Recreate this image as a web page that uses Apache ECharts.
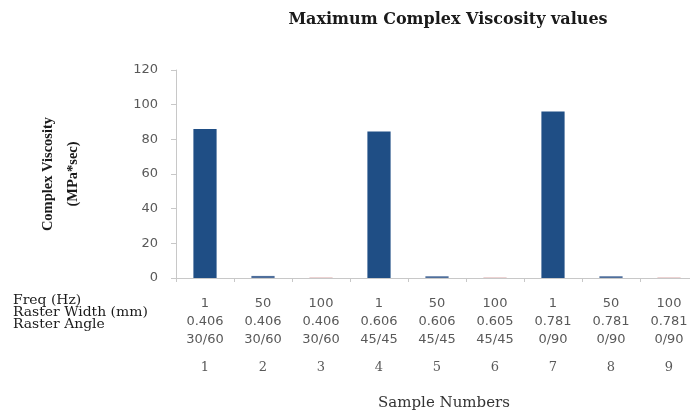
<!DOCTYPE html>
<html>
<head>
<meta charset="utf-8">
<script src="https://cdn.jsdelivr.net/npm/echarts@6/dist/echarts.min.js"></script>
<style>
  html, body { margin: 0; padding: 0; background: #fff; overflow: hidden; }
  #chart { width: 700px; height: 416px; }
</style>
</head>
<body>
<div id="chart"></div>
<script>
// data
const sampleNumbers = ['1', '2', '3', '4', '5', '6', '7', '8', '9']
const freqs = ['1', '50', '100', '1', '50', '100', '1', '50', '100']
const rasterWidths = ['0.406', '0.406', '0.406', '0.606', '0.606', '0.605', '0.781', '0.781', '0.781']
const rasterAngles = ['30/60', '30/60', '30/60', '45/45', '45/45', '45/45', '0/90', '0/90', '0/90']
const viscosity = [86, 1.2, 0.3, 84.5, 1.0, 0.3, 96, 1.0, 0.3]
const rowLabels = ['Freq (Hz)', 'Raster Width (mm)', 'Raster Angle']

// bar colour depends on the frequency
const freqColors = { '1': '#1f4e85', '50': '#4f6f9c', '100': '#dcaaaa' }

const serif = '"DejaVu Serif", "Liberation Serif", serif'
const sans = '"DejaVu Sans", "Liberation Sans", sans-serif'

const chart = echarts.init(document.getElementById('chart'))

const option = {
  animation: false,
  title: {
    text: 'Maximum Complex Viscosity values',
    left: 443,
    textAlign: 'center',
    top: 7,
    textStyle: { fontFamily: serif, fontWeight: 'bold', fontSize: 16, color: '#1a1a1a' }
  },
  grid: { left: 176, right: 2, top: 70, bottom: 138, containLabel: false },
  xAxis: [
    {
      type: 'category',
      data: sampleNumbers,
      position: 'bottom',
      axisLine: { lineStyle: { color: '#c8c8c8' } },
      axisTick: { show: true, length: 4, lineStyle: { color: '#c8c8c8' } },
      axisLabel: {
        margin: 17,
        color: '#595959',
        fontFamily: sans,
        fontSize: 13,
        lineHeight: 18,
        formatter: (v, i) => freqs[i] + '\n' + rasterWidths[i] + '\n' + rasterAngles[i]
      }
    },
    {
      type: 'category',
      data: sampleNumbers,
      position: 'bottom',
      offset: 83,
      axisLine: { show: false },
      axisTick: { show: false },
      axisLabel: { margin: 0, color: '#595959', fontFamily: serif, fontSize: 13 }
    }
  ],
  yAxis: {
    type: 'value',
    min: 0,
    max: 120,
    interval: 20,
    splitLine: { show: false },
    axisLine: { show: true, lineStyle: { color: '#c8c8c8' } },
    axisTick: { show: true, length: 5, lineStyle: { color: '#c8c8c8' } },
    axisLabel: { margin: 18, color: '#595959', fontFamily: sans, fontSize: 13 },
    name: 'Complex Viscosity\n(MPa*sec)',
    nameLocation: 'middle',
    nameRotate: 90,
    nameGap: 90,
    nameTextStyle: {
      fontFamily: '"Liberation Serif", serif',
      fontWeight: 'bold',
      fontSize: 14.5,
      lineHeight: 25,
      color: '#1a1a1a'
    }
  },
  graphic: rowLabels.map((t, i) => ({
    type: 'text',
    x: 13,
    y: 301 + i * 12,
    scaleX: 1.16,
    style: { text: t, font: '12px ' + serif, fill: '#1a1a1a', verticalAlign: 'middle' }
  })).concat([{
    type: 'text',
    x: 444,
    y: 403,
    style: {
      text: 'Sample Numbers',
      font: '15px ' + serif,
      fill: '#333',
      align: 'center',
      verticalAlign: 'middle'
    }
  }]),
  series: [
    {
      type: 'bar',
      xAxisIndex: 0,
      barWidth: '40%',
      data: viscosity.map((v, i) => ({ value: v, itemStyle: { color: freqColors[freqs[i]] } }))
    }
  ]
}

chart.setOption(option)
</script>
</body>
</html>
